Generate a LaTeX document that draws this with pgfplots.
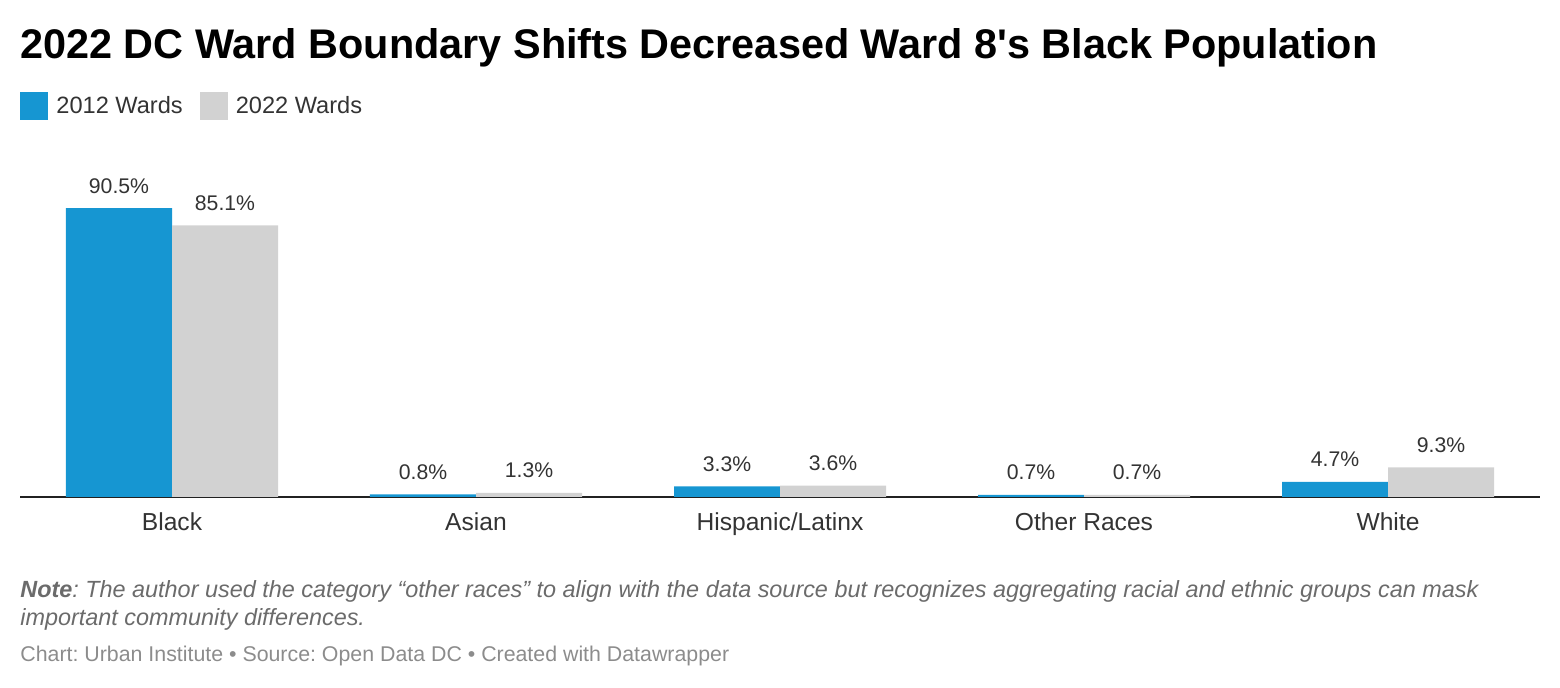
\documentclass[border=0pt]{standalone}
\usepackage{fontspec}
\setmainfont{Liberation Sans}
\newfontfamily\titlefont{Liberation Sans}
\usepackage{pgfplots}
\pgfplotsset{compat=1.18}
\frenchspacing

\definecolor{wardblue}{HTML}{1696D2}
\definecolor{wardgray}{HTML}{D2D2D2}
\definecolor{labeltext}{HTML}{333333}
\definecolor{notetext}{HTML}{6B6B6B}
\definecolor{sourcetext}{HTML}{8C8C8C}

\begin{document}
\begin{tikzpicture}
\path[use as bounding box] (0,0) rectangle (780pt,-344pt);

\node[anchor=base west, inner sep=0pt, font=\titlefont\fontsize{20.7}{25}\selectfont\bfseries] at (10pt,-29.5pt)
  {2022 DC Ward Boundary Shifts Decreased Ward 8's Black Population};

\begin{axis}[
    at={(10pt,-248.5pt)}, anchor=south west,
    scale only axis,
    width=760pt, height=173.5pt,
    ybar=0pt, bar width=53pt,
    xmin=-0.5, xmax=4.5,
    ymin=0, ymax=108.7,
    axis x line=bottom, axis y line=none,
    axis line style={draw=black!87, line width=1pt, -},
    xtick=data,
    xticklabels={Black,Asian,Hispanic/Latinx,Other Races,White},
    major tick length=0pt,
    xticklabel style={anchor=base, yshift=-17pt, text=labeltext,
      font=\fontsize{12.3}{14}\selectfont},
    ytick=\empty,
    /pgf/number format/assume math mode=true,
    nodes near coords={\pgfmathprintnumber[fixed,precision=1,fixed zerofill]{\pgfplotspointmeta}\%},
    every node near coord/.append style={anchor=base, yshift=7.5pt, text=labeltext,
      font=\fontsize{10.6}{12}\selectfont},
    legend columns=2,
    legend cell align=left,
    legend image code/.code={\fill[#1] (0pt,-7pt) rectangle (14pt,7pt);},
    legend style={at={(0,1.1268)}, anchor=west, draw=none, fill=none,
      inner sep=0pt, column sep=8.5pt,
      /tikz/every odd column/.append style={column sep=4pt},
      nodes={inner sep=0pt, text=labeltext},
      font=\fontsize{11.8}{14}\selectfont},
    clip=false,
]
\addplot[fill=wardblue, draw=none] coordinates {(0,90.5) (1,0.8) (2,3.3) (3,0.7) (4,4.7)};
\addlegendentry{2012 Wards}
\addplot[fill=wardgray, draw=none] coordinates {(0,85.1) (1,1.3) (2,3.6) (3,0.7) (4,9.3)};
\addlegendentry{2022 Wards}
\end{axis}

\node[anchor=base west, inner sep=0pt, text=notetext, font=\fontsize{11.7}{14}\selectfont\itshape] at (10pt,-299pt)
  {\textbf{Note}: The author used the category “other races” to align with the data source but recognizes aggregating racial and ethnic groups can mask};
\node[anchor=base west, inner sep=0pt, text=notetext, font=\fontsize{11.7}{14}\selectfont\itshape] at (10pt,-313pt)
  {important community differences.};

\node[anchor=base west, inner sep=0pt, text=sourcetext, font=\fontsize{10.67}{12}\selectfont] at (10pt,-331pt)
  {Chart: Urban Institute • Source: Open Data DC • Created with Datawrapper};
\end{tikzpicture}
\end{document}
